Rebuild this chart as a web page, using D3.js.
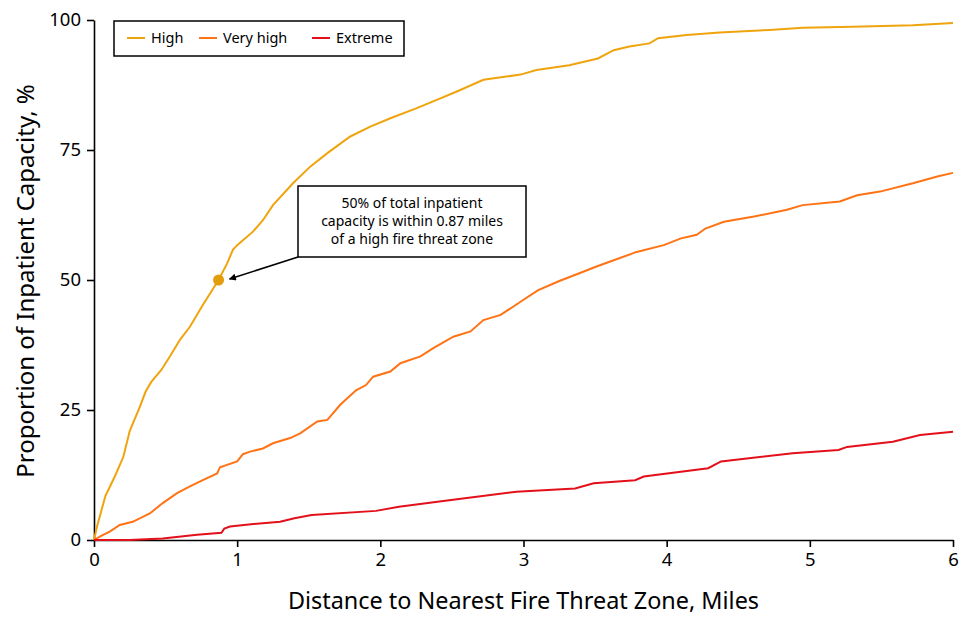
<!DOCTYPE html>
<html lang="en">
<head>
    <meta charset="UTF-8" />
    <title>Inpatient Capacity vs Distance to Fire Threat Zone</title>
    <script src="https://d3js.org/d3.v7.min.js"></script>
    <style>
        body {
            margin: 0;
            background: #fff;
            font-family: "Noto Sans", sans-serif;
        }
        svg {
            display: block;
        }
        .axis text {
            font-family: "Noto Sans", sans-serif;
            font-size: 18.5px;
            fill: #000;
        }
        .axis path, .axis line {
            stroke: #000;
            stroke-width: 1.6px;
        }
    </style>
</head>
<body>
    <svg id="chart"></svg>

    <script>
        const width = 960;
        const height = 617;

        // values (miles, % of capacity)
        const highMiles = [0, 0.02, 0.05, 0.08, 0.11, 0.15, 0.205, 0.25, 0.32, 0.36, 0.40, 0.47, 0.53, 0.60, 0.67, 0.76, 0.87, 0.93, 0.97, 1.0, 1.11, 1.18, 1.25, 1.39, 1.51, 1.63, 1.79, 1.93, 2.07, 2.25, 2.39, 2.53, 2.72, 2.98, 3.09, 3.32, 3.52, 3.63, 3.74, 3.88, 3.94, 4.14, 4.37, 4.72, 4.95, 5.30, 5.72, 6.0];
        const highPct = [0, 2.5, 5.5, 8.5, 10.2, 12.5, 16, 21, 25.6, 28.5, 30.4, 32.7, 35.3, 38.5, 41, 45.2, 50, 53.2, 55.8, 56.7, 59.3, 61.5, 64.4, 68.6, 71.8, 74.4, 77.6, 79.5, 81.1, 83, 84.6, 86.2, 88.5, 89.5, 90.4, 91.3, 92.6, 94.2, 94.9, 95.5, 96.5, 97.1, 97.6, 98.1, 98.5, 98.7, 99.0, 99.4];

        const veryHighMiles = [0, 0.05, 0.11, 0.18, 0.27, 0.39, 0.48, 0.58, 0.67, 0.76, 0.86, 0.88, 1.0, 1.04, 1.09, 1.18, 1.25, 1.37, 1.44, 1.56, 1.63, 1.72, 1.83, 1.90, 1.95, 2.07, 2.14, 2.28, 2.37, 2.51, 2.63, 2.72, 2.84, 2.93, 3.0, 3.1, 3.25, 3.39, 3.51, 3.63, 3.79, 3.98, 4.10, 4.21, 4.27, 4.40, 4.61, 4.84, 4.95, 5.21, 5.33, 5.49, 5.72, 5.89, 6.0];
        const veryHighPct = [0, 0.8, 1.6, 2.9, 3.5, 5.1, 7.1, 9.0, 10.3, 11.5, 12.8, 14, 15.1, 16.5, 17, 17.6, 18.6, 19.6, 20.5, 22.8, 23.1, 26, 28.8, 29.8, 31.4, 32.4, 34, 35.3, 36.9, 39.1, 40.1, 42.3, 43.3, 44.9, 46.2, 48, 49.8, 51.3, 52.6, 53.8, 55.4, 56.7, 58, 58.7, 59.9, 61.2, 62.2, 63.5, 64.4, 65.1, 66.3, 67, 68.6, 69.9, 70.6];

        const extremeMiles = [0, 0.25, 0.48, 0.72, 0.89, 0.91, 0.95, 1.08, 1.30, 1.40, 1.52, 1.97, 2.13, 2.44, 2.95, 3.36, 3.49, 3.78, 3.84, 4.29, 4.38, 4.88, 5.20, 5.26, 5.58, 5.77, 6.0];
        const extremePct = [0, 0, 0.3, 1.0, 1.4, 2.2, 2.6, 3.0, 3.5, 4.2, 4.8, 5.6, 6.4, 7.5, 9.3, 9.9, 10.9, 11.5, 12.2, 13.8, 15.1, 16.7, 17.3, 17.9, 18.9, 20.2, 20.8];

        const seriesNames = ["High", "Very high", "Extreme"];
        const seriesColors = ["#efa40e", "#ff7315", "#e3101b"];
        const xTicks = [0, 1, 2, 3, 4, 5, 6];
        const yTicks = [0, 25, 50, 75, 100];

        const annotationMiles = 0.87;
        const annotationPct = 50;
        const annotationLines = ["50% of total inpatient", "capacity is within 0.87 miles", "of a high fire threat zone"];

        const series = [
            highMiles.map((d, i) => [d, highPct[i]]),
            veryHighMiles.map((d, i) => [d, veryHighPct[i]]),
            extremeMiles.map((d, i) => [d, extremePct[i]])
        ];

        const svg = d3.select("#chart")
            .attr("width", width)
            .attr("height", height);

        const x = d3.scaleLinear().domain([0, 6]).range([94, 953]);
        const y = d3.scaleLinear().domain([0, 100]).range([540, 20]);

        // axes
        svg.append("g")
            .attr("class", "axis")
            .attr("transform", `translate(0,${y(0)})`)
            .call(d3.axisBottom(x).tickValues(xTicks).tickFormat(d3.format("d"))
                .tickSize(7).tickSizeOuter(0).tickPadding(5))
            .selectAll("text").attr("dy", "0.75em");

        svg.append("g")
            .attr("class", "axis")
            .attr("transform", `translate(${x(0)},0)`)
            .call(d3.axisLeft(y).tickValues(yTicks).tickSize(7).tickSizeOuter(0).tickPadding(6));

        // axis titles
        svg.append("text")
            .attr("x", (x(0) + x(6)) / 2)
            .attr("y", 609)
            .attr("text-anchor", "middle")
            .style("font-size", "23.4px")
            .text("Distance to Nearest Fire Threat Zone, Miles");

        svg.append("text")
            .attr("transform", `translate(34,${y(50) + 1}) rotate(-90)`)
            .attr("text-anchor", "middle")
            .style("font-size", "24px")
            .text("Proportion of Inpatient Capacity, %");

        // lines
        const line = d3.line()
            .x(d => x(d[0]))
            .y(d => y(d[1]));

        svg.append("g")
            .selectAll("path")
            .data(series)
            .join("path")
            .attr("d", line)
            .attr("fill", "none")
            .attr("stroke", (d, i) => seriesColors[i])
            .attr("stroke-width", 2);

        // annotation marker
        svg.append("circle")
            .attr("cx", x(annotationMiles))
            .attr("cy", y(annotationPct))
            .attr("r", 5.5)
            .attr("fill", "#e39c0b");

        // arrow
        svg.append("defs").append("marker")
            .attr("id", "arrow")
            .attr("viewBox", "0 0 10 10")
            .attr("refX", 9)
            .attr("refY", 5)
            .attr("markerWidth", 9)
            .attr("markerHeight", 7)
            .attr("markerUnits", "userSpaceOnUse")
            .attr("orient", "auto")
            .append("path")
            .attr("d", "M0,0 L10,5 L0,10 Z")
            .attr("fill", "#000");

        const boxX = 298, boxY = 186, boxW = 228, boxH = 71;

        svg.append("line")
            .attr("x1", boxX)
            .attr("y1", boxY + boxH)
            .attr("x2", x(annotationMiles) + 11)
            .attr("y2", y(annotationPct) - 1)
            .attr("stroke", "#000")
            .attr("stroke-width", 1.5)
            .attr("marker-end", "url(#arrow)");

        svg.append("rect")
            .attr("x", boxX)
            .attr("y", boxY)
            .attr("width", boxW)
            .attr("height", boxH)
            .attr("fill", "#fff")
            .attr("stroke", "#000")
            .attr("stroke-width", 1.5);

        svg.append("g")
            .selectAll("text")
            .data(annotationLines)
            .join("text")
            .attr("x", boxX + boxW / 2)
            .attr("y", (d, i) => boxY + 22 + i * 18)
            .attr("text-anchor", "middle")
            .style("font-size", "14px")
            .text(d => d);

        // legend
        const legend = svg.append("g");
        legend.append("rect")
            .attr("x", 114)
            .attr("y", 21)
            .attr("width", 290)
            .attr("height", 35)
            .attr("fill", "#fff")
            .attr("stroke", "#000")
            .attr("stroke-width", 1.5);

        const legendX = [127, 199, 312];
        const item = legend.selectAll("g.item")
            .data(seriesNames)
            .join("g")
            .attr("class", "item")
            .attr("transform", (d, i) => `translate(${legendX[i]},38)`);

        item.append("line")
            .attr("x1", 0)
            .attr("x2", 18)
            .attr("stroke", (d, i) => seriesColors[i])
            .attr("stroke-width", 2);

        item.append("text")
            .attr("x", 24)
            .attr("y", 5)
            .style("font-size", "14.5px")
            .text(d => d);
    </script>
</body>
</html>
